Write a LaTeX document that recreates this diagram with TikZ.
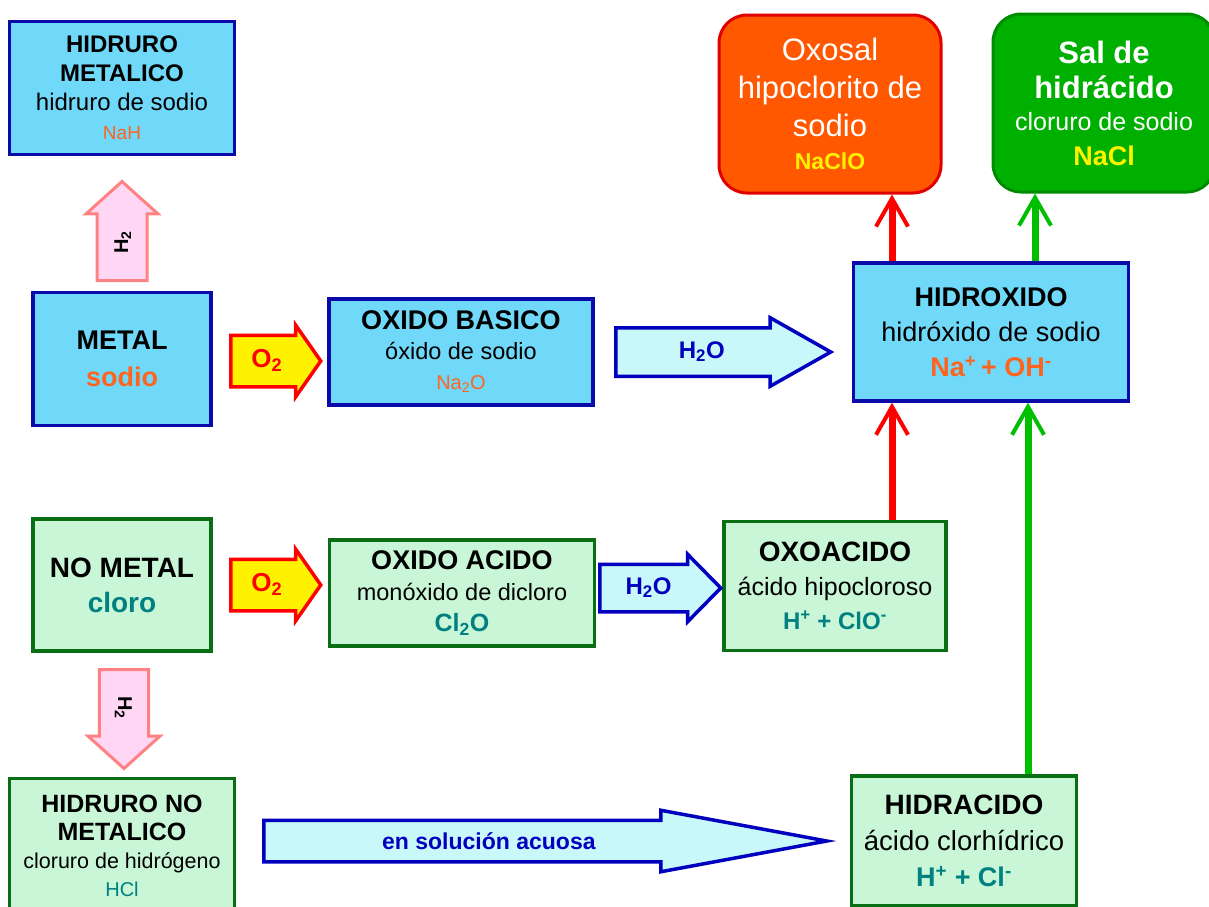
\documentclass[tikz,border=0pt]{standalone}
\usepackage{fontspec}
\setmainfont{Liberation Sans}
\usepackage{tikz}
\usetikzlibrary{arrows.meta,shapes.arrows,calc,positioning}
\definecolor{boxblue}{RGB}{112,216,248}
\definecolor{edgeblue}{RGB}{10,10,170}
\definecolor{boxgreen}{RGB}{200,246,214}
\definecolor{edgegreen}{RGB}{10,110,20}
\definecolor{oxosalfill}{RGB}{255,88,0}
\definecolor{oxosaledge}{RGB}{225,0,0}
\definecolor{salfill}{RGB}{0,176,0}
\definecolor{saledge}{RGB}{0,140,0}
\definecolor{naorange}{RGB}{255,100,30}
\definecolor{clteal}{RGB}{0,128,128}
\definecolor{arrred}{RGB}{255,0,0}
\definecolor{waterfill}{RGB}{200,248,250}
\definecolor{wateredge}{RGB}{0,0,190}
\definecolor{hpink}{RGB}{255,215,245}
\definecolor{hpinkedge}{RGB}{255,130,130}
\definecolor{linkgreen}{RGB}{0,190,0}
\newcommand{\Bline}[2]{{\fontsize{#1}{#1}\selectfont\bfseries #2}}
\newcommand{\Rline}[2]{{\fontsize{#1}{#1}\selectfont #2}}
\newcommand{\Spacing}[1]{\fontsize{12}{#1}\selectfont}
\tikzset{
  bluebox/.style={draw=edgeblue, fill=boxblue, line width=3.5pt, align=center, inner sep=0pt},
  greenbox/.style={draw=edgegreen, fill=boxgreen, line width=3.5pt, align=center, inner sep=0pt},
  oxosalbox/.style={draw=oxosaledge, fill=oxosalfill, line width=3pt, rounded corners=28pt, align=center, inner sep=0pt, text=white},
  salbox/.style={draw=saledge, fill=salfill, line width=3pt, rounded corners=28pt, align=center, inner sep=0pt, text=white},
  blockarrow/.style={single arrow, inner xsep=0pt, text height=17pt, text depth=5pt, anchor=tail},
  oxygen/.style={blockarrow, draw=arrred, fill=yellow, line width=3.5pt, inner ysep=13pt,
    minimum width=70pt, minimum height=90pt, single arrow head extend=10pt,
    single arrow tip angle=110, text=arrred, font=\fontsize{26}{26}\selectfont\bfseries},
  water/.style={blockarrow, draw=wateredge, fill=waterfill, line width=3.5pt,
    single arrow head extend=10pt, text=wateredge, font=\fontsize{24}{24}\selectfont\bfseries},
  hydrogen/.style={blockarrow, draw=hpinkedge, fill=hpink, line width=3pt,
    minimum width=72pt, minimum height=99pt, single arrow head extend=11pt,
    single arrow tip angle=96, font=\fontsize{20}{20}\selectfont\bfseries},
  redlink/.style={draw=arrred, line width=7pt, -{Straight Barb[length=28pt, width=32pt, line width=4pt]}},
  greenlink/.style={draw=linkgreen, line width=7pt, -{Straight Barb[length=28pt, width=32pt, line width=4pt]}}
}
\begin{document}
\begin{tikzpicture}[x=1pt, y=-1pt]
  \useasboundingbox (0,0) rectangle (1209,906);
  % metal side
  \node[bluebox, minimum width=225pt, minimum height=133pt, font=\Spacing{29}] (hidrurom) at (122,88)
    {\Bline{24}{HIDRURO}\\\Bline{24}{METALICO}\\\Rline{24}{hidruro de sodio}\\\Rline{19}{\color{naorange}NaH}};
  \node[bluebox, minimum width=178pt, minimum height=133pt, font=\Spacing{37}] (metal) at (122,359)
    {\Bline{27}{METAL}\\\Bline{27}{\color{naorange}sodio}};
  \node[bluebox, minimum width=264pt, minimum height=106pt, font=\Spacing{30}] (oxbasico) at (461,352)
    {\Bline{27}{OXIDO BASICO}\\\Rline{23.5}{óxido de sodio}\\\Rline{20}{\color{naorange}Na\textsubscript{2}O}};
  \node[bluebox, minimum width=275pt, minimum height=138pt, font=\Spacing{35}] (hidroxido) at (991,332)
    {\Bline{27}{HIDROXIDO}\\\Rline{27}{hidróxido de sodio}\\\Bline{27}{\color{naorange}Na\textsuperscript{+}\,+ OH\textsuperscript{-}}};
  % salts
  \node[oxosalbox, minimum width=222pt, minimum height=178pt, font=\Spacing{38}] (oxosal) at (830,104)
    {\Rline{31}{Oxosal}\\\Rline{31}{hipoclorito de}\\\Rline{31}{sodio}\\[-5pt]\Bline{23}{\color{yellow}NaClO}};
  \node[salbox, minimum width=222pt, minimum height=178pt, font=\Spacing{35}] (sal) at (1104,103)
    {\Bline{31}{Sal de}\\\Bline{31}{hidrácido}\\[-3pt]\Rline{25}{cloruro de sodio}\\\Bline{27}{\color{yellow}NaCl}};
  % non-metal side
  \node[greenbox, minimum width=178pt, minimum height=132pt, font=\Spacing{35}] (nometal) at (122,585)
    {\Bline{28}{NO METAL}\\\Bline{28}{\color{clteal}cloro}};
  \node[greenbox, minimum width=265pt, minimum height=106pt, font=\Spacing{31}] (oxacido) at (462,593)
    {\Bline{27}{OXIDO ACIDO}\\\Rline{23.5}{monóxido de dicloro}\\\Bline{25}{\color{clteal}Cl\textsubscript{2}O}};
  \node[greenbox, minimum width=222pt, minimum height=129pt, font=\Spacing{34}] (oxoacido) at (835,586)
    {\Bline{28}{OXOACIDO}\\\Rline{25}{ácido hipocloroso}\\\Bline{24}{\color{clteal}H\textsuperscript{+} + ClO\textsuperscript{-}}};
  \node[greenbox, minimum width=225pt, minimum height=135pt, font=\Spacing{28}] (hidruronm) at (122,846)
    {\Bline{25}{HIDRURO NO}\\\Bline{25}{METALICO}\\\Rline{21.5}{cloruro de hidrógeno}\\\Rline{20}{\color{clteal}HCl}};
  \node[greenbox, minimum width=225pt, minimum height=130pt, font=\Spacing{36}] (hidracido) at (964,841)
    {\Bline{28}{HIDRACIDO}\\\Rline{27.5}{ácido clorhídrico}\\\Bline{27}{\color{clteal}H\textsuperscript{+} + Cl\textsuperscript{-}}};
  % reagent arrows
  \node[hydrogen, rotate=90, inner ysep=12.5pt] (hup) at (122,282) {H\textsubscript{2}};
  \node[hydrogen, rotate=-90, inner ysep=11.5pt] (hdown) at (124,668) {H\textsubscript{2}};
  \node[oxygen] (oxa) at (229,361) {O\textsubscript{2}};
  \node[oxygen] (oxb) at (229,585) {O\textsubscript{2}};
  \node[water, inner ysep=11.5pt, minimum width=66pt, minimum height=215pt, single arrow tip angle=59] (wata) at (614,352) {H\textsubscript{2}O};
  \node[water, inner ysep=11pt, minimum width=65pt, minimum height=121pt, single arrow tip angle=91] (watb) at (598,588) {H\textsubscript{2}O};
  \node[water, inner ysep=8pt, minimum width=59pt, minimum height=563pt, single arrow tip angle=21] (acuosa) at (262,841) {};
  \node[text=wateredge, font=\fontsize{23}{23}\selectfont\bfseries] (acuosalabel)
    at ($(acuosa.tail)!0.395!(acuosa.tip)$) {en solución acuosa};
  % reaction links
  \coordinate (redx) at (892,0);
  \coordinate (greenhi) at (1035,0);
  \coordinate (greenlo) at (1028,0);
  \draw[redlink] (hidroxido.north -| redx) -- (oxosal.south -| redx);
  \draw[greenlink] (hidroxido.north -| greenhi) -- (sal.south -| greenhi);
  \draw[redlink] (oxoacido.north -| redx) -- (hidroxido.south -| redx);
  \draw[greenlink] (hidracido.north -| greenlo) -- (hidroxido.south -| greenlo);
\end{tikzpicture}
\end{document}
